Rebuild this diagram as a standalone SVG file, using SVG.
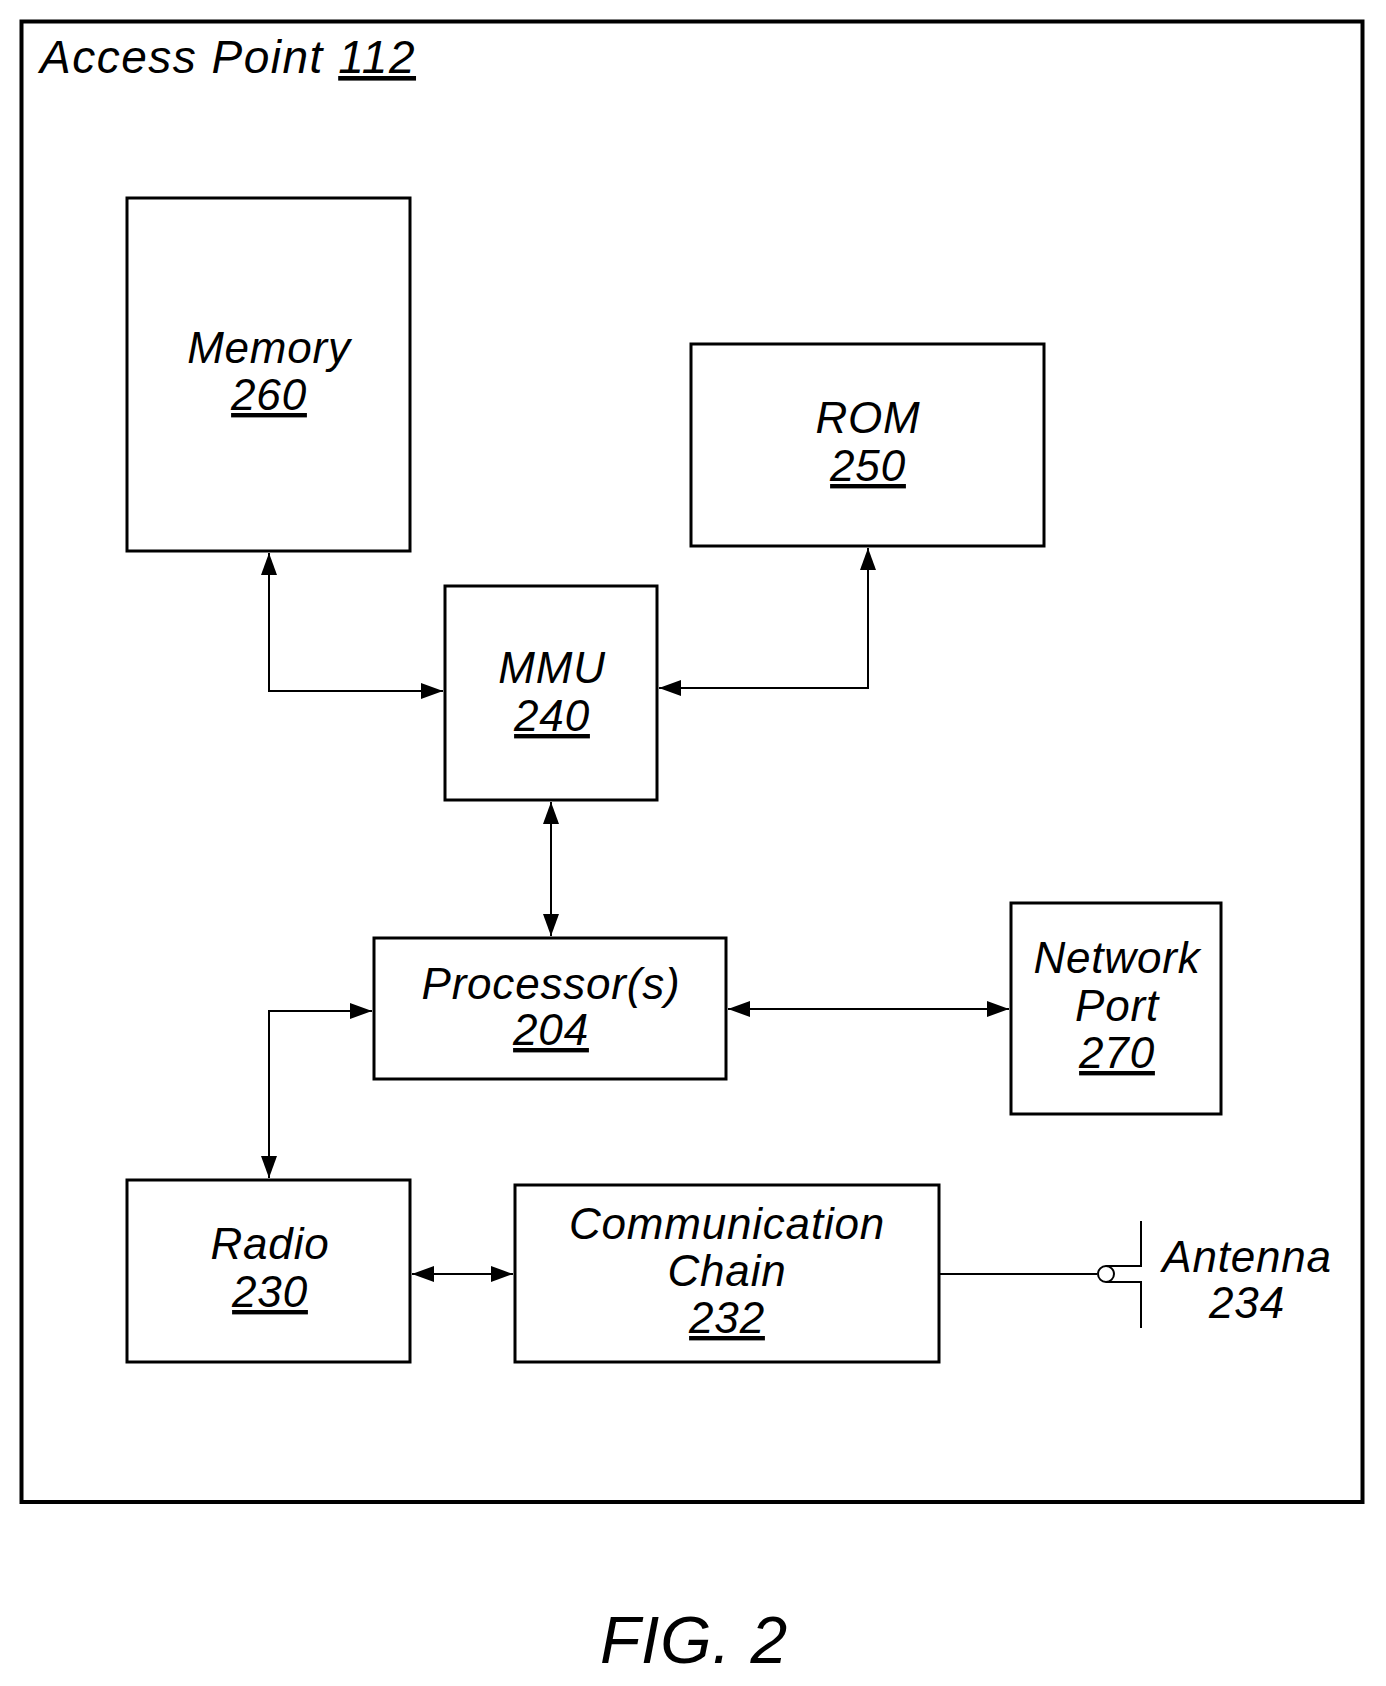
<svg xmlns="http://www.w3.org/2000/svg" width="1386" height="1686" viewBox="0 0 1386 1686">
<style>
.b{fill:#fff;stroke:#000;stroke-width:3}
.t{font-family:"Liberation Sans",Arial,sans-serif;font-style:italic;font-size:44px;fill:#000;text-anchor:middle;letter-spacing:0.8px}
.c{fill:none;stroke:#000;stroke-width:2}
</style>
<defs>
<marker id="a" markerUnits="userSpaceOnUse" markerWidth="24" markerHeight="18" refX="22" refY="9" orient="auto-start-reverse"><path d="M0,1 L22,9 L0,17 Z" fill="#000"/></marker>
</defs>
<rect width="1386" height="1686" fill="#fff"/>
<g id="access-point">
<rect x="21.5" y="21.5" width="1341" height="1480.5" fill="none" stroke="#000" stroke-width="4"/>
<text x="40" y="73" class="t" style="text-anchor:start;font-size:46px;letter-spacing:1.5px">Access Point <tspan text-decoration="underline">112</tspan></text>
</g>
<g id="connectors">
<path class="c" d="M269,553 V691 H443" marker-start="url(#a)" marker-end="url(#a)"/>
<path class="c" d="M868,548 V688 H659" marker-start="url(#a)" marker-end="url(#a)"/>
<path class="c" d="M551,802 V936" marker-start="url(#a)" marker-end="url(#a)"/>
<path class="c" d="M728,1009 H1009" marker-start="url(#a)" marker-end="url(#a)"/>
<path class="c" d="M372,1011 H269 V1178" marker-start="url(#a)" marker-end="url(#a)"/>
<path class="c" d="M412,1274 H513" marker-start="url(#a)" marker-end="url(#a)"/>
<path class="c" d="M939,1274 H1097"/>
</g>
<g id="memory"><rect class="b" x="127" y="198" width="283" height="353"/>
<text class="t" x="269" y="363">Memory</text><text class="t" x="269" y="410" text-decoration="underline">260</text></g>
<g id="rom"><rect class="b" x="691" y="344" width="353" height="202"/>
<text class="t" x="868" y="433">ROM</text><text class="t" x="868" y="481" text-decoration="underline">250</text></g>
<g id="mmu"><rect class="b" x="445" y="586" width="212" height="214"/>
<text class="t" x="552" y="683">MMU</text><text class="t" x="552" y="731" text-decoration="underline">240</text></g>
<g id="processor"><rect class="b" x="374" y="938" width="352" height="141"/>
<text class="t" x="551" y="999">Processor(s)</text><text class="t" x="551" y="1045" text-decoration="underline">204</text></g>
<g id="network-port"><rect class="b" x="1011" y="903" width="210" height="211"/>
<text class="t" x="1117" y="973">Network</text><text class="t" x="1117" y="1021">Port</text><text class="t" x="1117" y="1068" text-decoration="underline">270</text></g>
<g id="radio"><rect class="b" x="127" y="1180" width="283" height="182"/>
<text class="t" x="270" y="1259">Radio</text><text class="t" x="270" y="1307" text-decoration="underline">230</text></g>
<g id="comm-chain"><rect class="b" x="515" y="1185" width="424" height="177"/>
<text class="t" x="727" y="1239">Communication</text><text class="t" x="727" y="1286">Chain</text><text class="t" x="727" y="1333" text-decoration="underline">232</text></g>
<g id="antenna">
<circle cx="1106" cy="1274" r="8" fill="#fff" stroke="#000" stroke-width="2"/>
<path class="c" d="M1106,1266 H1141 V1221 M1106,1282 H1141 V1328"/>
<text class="t" x="1247" y="1272">Antenna</text><text class="t" x="1247" y="1318">234</text>
</g>
<text class="t" x="694" y="1663" style="font-size:66px">FIG. 2</text>
</svg>
